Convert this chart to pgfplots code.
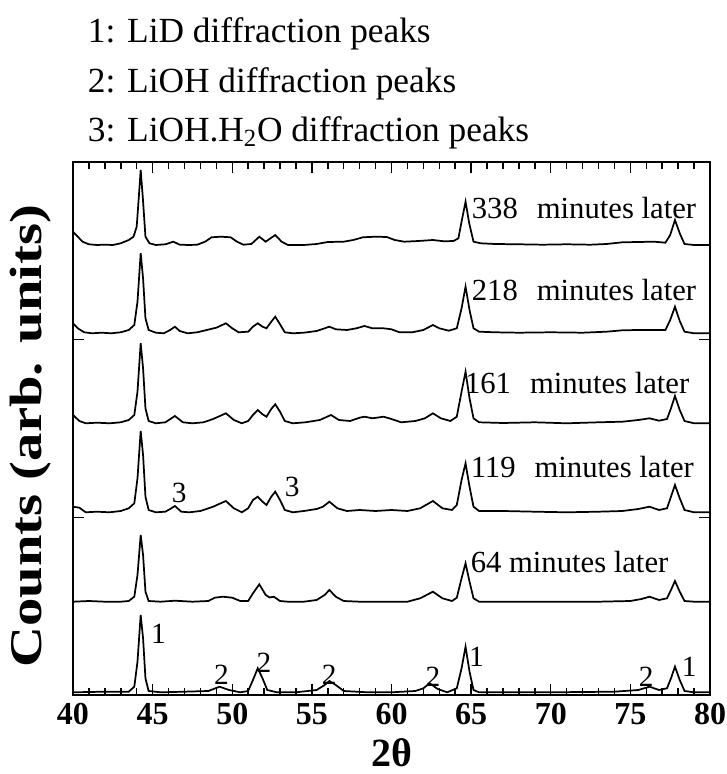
\documentclass[border=0pt]{standalone}
\usepackage{fontspec}
\setmainfont{Liberation Serif}
\newfontfamily\widefont{Liberation Serif}[FakeStretch=1.25]
\usepackage{pgfplots}
\pgfplotsset{compat=1.18}
\begin{document}
\begin{tikzpicture}
\begin{axis}[
  scale only axis,
  width=477.75pt, height=399.75pt,
  xmin=40, xmax=80, ymin=0, ymax=533,
  xtick={40,45,...,80},
  xticklabels={40,45,50,55,60,65,70,75,80},
  minor x tick num=4,
  ytick={177.67,355.33},
  yticklabels={},
  tick align=inside,
  major tick length=8pt,
  minor tick length=5pt,
  every tick/.style={black, line width=1.1pt},
  axis line style={line width=1.6pt},
  xticklabel style={font=\fontsize{24}{26}\selectfont\bfseries, inner sep=0pt, yshift=-6pt},
  clip=false,
]
% 338 min
\addplot[black, line width=1.3pt, mark=none] coordinates {(40.0,463.3)(40.3,458.3)(40.6,453.3)(41.0,450.7)(41.5,450)(42.0,450.3)(42.5,450)(43.0,451.7)(43.5,455)(43.8,458.3)(44.0,468.3)(44.12,495)(44.25,525)(44.38,498.3)(44.55,458.3)(44.8,451.7)(45.2,450)(45.8,450.7)(46.3,453.3)(46.7,450.3)(47.3,450)(47.8,450.3)(48.3,453.3)(48.7,457.7)(49.3,458.3)(49.9,457.7)(50.3,453.3)(50.7,450.3)(51.2,451)(51.7,458.3)(52.1,453.3)(52.7,460)(53.1,453.3)(53.5,450)(54.5,450)(55.3,451)(56.0,453)(57.0,453.3)(57.6,455)(58.2,457.7)(59.0,458.3)(59.7,458)(60.2,455)(60.8,453.3)(61.7,454)(62.6,455)(63.3,453.7)(63.9,454)(64.2,456.7)(64.42,475)(64.65,493.3)(64.88,471.7)(65.15,453.3)(65.6,451.7)(66.5,451)(68,450.7)(69.5,450.3)(71,450.7)(72.5,450.3)(73.5,451)(74.5,452.7)(75.5,453)(76.5,453.3)(77.2,452.3)(77.5,460)(77.8,475)(78.1,461.7)(78.4,451)(79,450)(80,450)};
% 218 min
\addplot[black, line width=1.3pt, mark=none] coordinates {(40.0,371.7)(40.3,366.7)(40.7,362.7)(41.2,361.7)(41.8,362.3)(42.4,361.7)(43.0,362.7)(43.5,365)(43.85,370)(44.05,393.3)(44.25,441.7)(44.4,416.7)(44.55,376.7)(44.75,365)(45.2,362.3)(45.7,361.7)(46.1,365)(46.4,368.3)(46.7,364)(47.2,361.7)(47.8,362.7)(48.4,365)(49.0,367.3)(49.6,371.7)(50.0,366.7)(50.4,362.7)(51.0,363.3)(51.3,368.3)(51.6,371.7)(51.9,368.3)(52.15,366.7)(52.45,373.3)(52.7,378.3)(53.0,370.7)(53.3,362.7)(53.8,361.7)(54.5,362.3)(55.3,364)(55.8,366.7)(56.1,368.3)(56.5,365.7)(57.2,365)(57.8,366.7)(58.3,369)(58.8,366.7)(59.5,366.7)(60.0,365.7)(60.5,362.7)(61.3,362.7)(62.0,365)(62.6,370)(63.0,366.7)(63.6,364.3)(64.1,366.7)(64.4,386.7)(64.65,408.3)(64.9,385)(65.15,366.7)(65.5,363.3)(66.5,362.7)(68,362.3)(70,362.7)(72,362.3)(73.5,363.3)(74.5,364.7)(75.5,365)(76.5,365)(77.2,365)(77.5,375)(77.8,388.3)(78.1,374)(78.4,363.3)(79,361.7)(80,361.7)};
% 161 min
\addplot[black, line width=1.3pt, mark=none] coordinates {(40.0,280)(40.4,274)(40.8,271.7)(41.5,272.3)(42.3,271.7)(43.0,272.7)(43.5,275)(43.85,280)(44.05,303.3)(44.25,351.7)(44.4,326.7)(44.55,286.7)(44.75,274)(45.2,271.7)(45.8,272.7)(46.4,279)(46.9,272.7)(47.5,271.7)(48.2,272.7)(48.8,276)(49.6,281.7)(50.1,275)(50.6,271.7)(51.0,274)(51.3,280)(51.6,285)(51.9,280.7)(52.15,278.3)(52.45,286)(52.7,290.7)(53.0,283.3)(53.3,274)(53.8,271.7)(54.6,272.7)(55.5,275)(56.2,280)(56.7,275)(57.4,274)(58.0,277.3)(58.3,278.3)(58.8,276.7)(59.5,278.3)(60.0,276)(60.6,272.7)(61.5,274)(62.1,276.7)(62.6,281.7)(63.1,276.7)(63.7,274)(64.1,278.3)(64.4,303.3)(64.65,323.3)(64.9,296.7)(65.15,276.7)(65.5,272.7)(67,272)(69,272.7)(71,271.7)(73,272.7)(74.5,273.3)(75.5,275)(76.2,276.7)(76.8,274.3)(77.3,276)(77.55,286.7)(77.8,299)(78.1,285)(78.4,274)(79,271.7)(80,271.7)};
% 119 min
\addplot[black, line width=1.3pt, mark=none] coordinates {(40.0,188.3)(40.4,187.3)(40.8,182.7)(41.5,183.3)(42.3,182.7)(43.0,184)(43.5,186.7)(43.85,191.7)(44.05,216.7)(44.25,264)(44.4,240)(44.55,198.3)(44.75,185)(45.2,182.7)(45.8,183.3)(46.1,186)(46.4,189)(46.8,183.3)(47.3,182.7)(48.0,184)(48.8,188.3)(49.6,194)(50.1,186.7)(50.6,182.7)(51.0,186.7)(51.3,195)(51.6,198.3)(51.9,193.3)(52.15,190)(52.45,198.3)(52.7,203.3)(53.0,195)(53.3,185)(53.8,182.7)(54.5,184)(55.3,186)(55.7,188.3)(56.1,193.3)(56.6,186.7)(57.2,184)(58,185)(59,184)(60,185)(61,184)(61.8,186.7)(62.6,194)(63.2,186.7)(63.8,185)(64.1,190)(64.4,215)(64.65,231.7)(64.9,208.3)(65.15,188.3)(65.5,184)(67,184)(69,183.3)(71,182.7)(73,183.3)(74.5,184)(75.5,186)(76.2,188.3)(76.8,185)(77.3,186.7)(77.55,198.3)(77.8,210)(78.1,196.7)(78.4,185)(79,182.7)(80,182.7)};
% 64 min
\addplot[black, line width=1.3pt, mark=none] coordinates {(40.0,93.3)(41,94)(42,93.3)(43,93.3)(43.5,94)(43.85,98.3)(44.05,120)(44.25,160)(44.4,140)(44.55,103.3)(44.75,94)(45.5,93.3)(46.4,94.3)(47.5,93.3)(48.5,94)(48.9,97.3)(49.4,98.3)(50.0,97.3)(50.5,94)(51.0,94)(51.3,101.7)(51.7,110.7)(52.1,100)(52.35,97.5)(52.6,98.3)(53.0,94)(53.5,93.3)(54.5,93.3)(55.3,95)(55.8,100)(56.1,105)(56.5,98.3)(57.0,94)(58,93.3)(59,93.3)(60,93.3)(61,93.3)(61.8,96.7)(62.6,103.3)(63.2,96.7)(63.8,94)(64.1,97.3)(64.4,116.7)(64.65,131.7)(64.9,113.3)(65.15,96.7)(65.5,93.3)(68,93.3)(70,93.3)(73,93.3)(75,94)(75.7,96)(76.2,98.3)(76.8,95)(77.3,96.7)(77.55,105)(77.8,114)(78.1,103.3)(78.4,94)(79,93.3)(80,93.3)};
% initial
\addplot[black, line width=1.3pt, mark=none] coordinates {(40,2.7)(42,3.3)(43.5,3.3)(43.85,8.3)(44.05,33.3)(44.25,80)(44.4,56.7)(44.55,16.7)(44.75,4)(45.5,2.7)(47,3.3)(48.5,4)(49.2,8.3)(49.8,5)(50.5,2.7)(51.0,4)(51.3,15)(51.6,26.7)(51.9,16.7)(52.2,5)(52.8,2.7)(54,2.7)(55.3,5)(55.8,10)(56.1,14)(56.5,10)(57.0,4)(58.5,2.7)(60,2.7)(61.5,4)(62.0,6.7)(62.4,11.7)(62.9,6)(63.5,2.7)(64.1,6.7)(64.4,26.7)(64.65,48.3)(64.9,23.3)(65.15,5)(65.5,2.7)(70,2.7)(74,3.3)(75.5,5)(76.2,8.3)(76.8,5)(77.3,6.7)(77.55,16.7)(77.8,28.3)(78.1,15)(78.4,4)(79,2.7)(80,2.7)};

% time labels
\begin{scope}[every node/.style={inner sep=0pt, anchor=west, font=\fontsize{23}{25}\selectfont}]
\node at (axis cs:65.03,487) {338\hspace{0.62em}minutes later};
\node at (axis cs:65.03,405) {218\hspace{0.62em}minutes later};
\node at (axis cs:64.6,312) {161\hspace{0.62em}minutes later};
\node at (axis cs:64.96,228) {119\hspace{0.62em}minutes later};
\node at (axis cs:64.96,133) {64 minutes later};
\end{scope}
% peak labels
\begin{scope}[every node/.style={inner sep=0pt, anchor=center, font=\fontsize{22}{24}\selectfont}]
\node at (axis cs:45.36,61) {1};
\node at (axis cs:49.33,20) {2};
\node at (axis cs:51.99,32) {2};
\node at (axis cs:56.09,20) {2};
\node at (axis cs:62.6,18) {2};
\node at (axis cs:65.34,38) {1};
\node at (axis cs:76.0,18) {2};
\node at (axis cs:78.69,28) {1};
\node at (axis cs:46.67,202) {3};
\node at (axis cs:53.77,208) {3};
\end{scope}
% axis labels
\node[font=\fontsize{30}{32}\selectfont\bfseries, anchor=center, inner sep=0pt] at ([yshift=-43pt]rel axis cs:0.5,0) {2θ};
\node[font=\widefont\fontsize{34}{36}\selectfont\bfseries, anchor=center, inner sep=0pt, rotate=90] at ([xshift=-31.5pt]rel axis cs:0,0.486) {Counts (arb. units)};
% header
\begin{scope}[every node/.style={inner sep=0pt, anchor=base west, font=\fontsize{26.5}{28}\selectfont}]
\node at ([xshift=11pt,yshift=89.25pt]rel axis cs:0,1) {1: LiD diffraction peaks};
\node at ([xshift=11pt,yshift=52.3pt]rel axis cs:0,1) {2: LiOH diffraction peaks};
\node at ([xshift=11pt,yshift=15.2pt]rel axis cs:0,1) {3: LiOH.H\textsubscript{2}O diffraction peaks};
\end{scope}
\end{axis}
\pgfresetboundingbox
\path[use as bounding box] ([shift={(-54.75pt,-59.25pt)}]current axis.south west) rectangle ([shift={(12.75pt,121.5pt)}]current axis.north east);
\end{tikzpicture}
\end{document}
